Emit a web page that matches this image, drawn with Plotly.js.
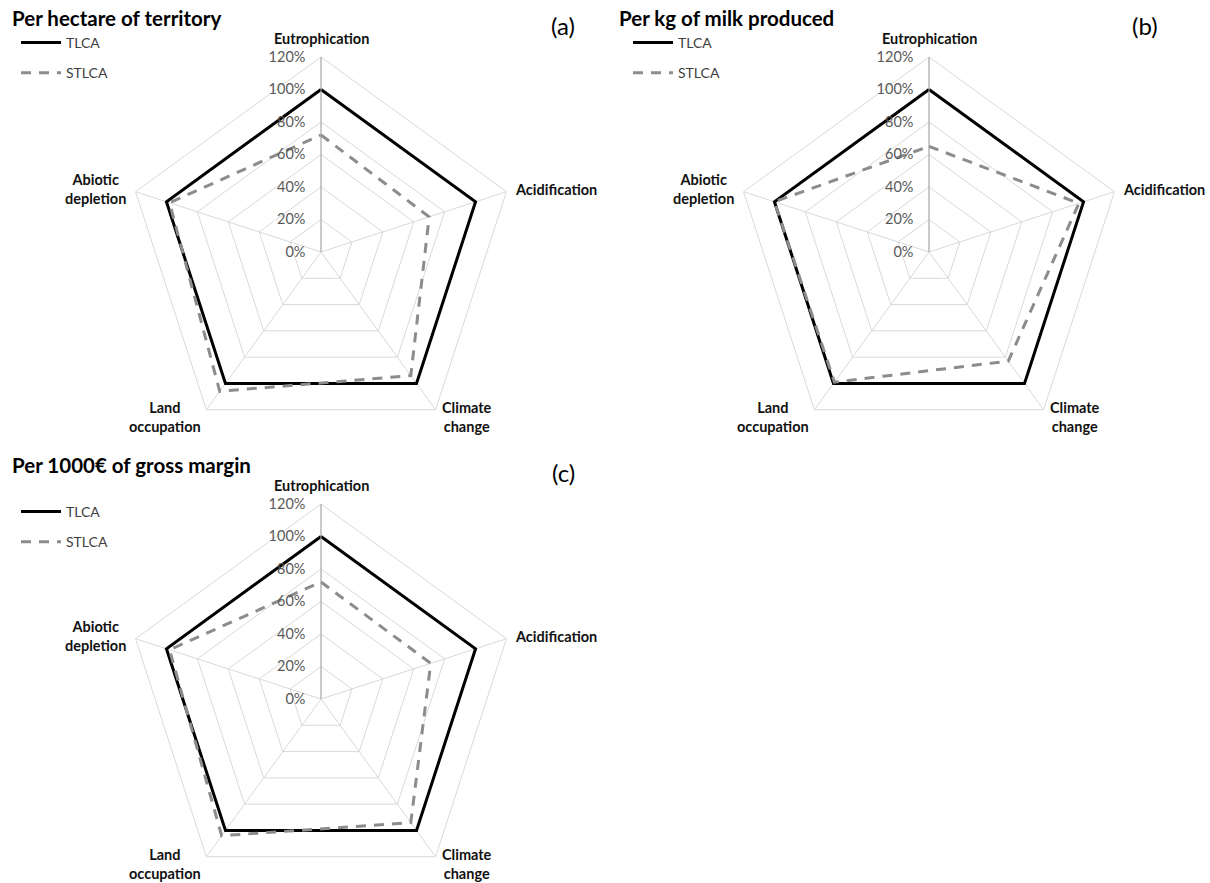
<!DOCTYPE html>
<html>
<head>
<meta charset="utf-8">
<script src="https://cdn.plot.ly/plotly-3.0.1.min.js"></script>
<style>
html,body{margin:0;padding:0;background:#fff;width:1210px;height:883px;overflow:hidden;}
#wrap{width:1210px;height:883px;overflow:hidden;}
#chart{width:1210px;height:900px;}
</style>
</head>
<body>
<div id="wrap"><div id="chart"></div></div>
<script>
// Impact categories (angular axis)
const categories = ['Eutrophication', 'Acidification', 'Climate change', 'Land occupation', 'Abiotic depletion'];
const categoryLabels = ['Eutrophication', 'Acidification', 'Climate<br>change', 'Land<br>occupation', 'Abiotic<br>depletion'];
const seriesNames = ['TLCA', 'STLCA'];

// (a) Per hectare of territory
const tlcaHectare  = [1.00, 1.00, 1.00, 1.00, 1.00];
const stlcaHectare = [0.72, 0.70, 0.94, 1.06, 0.98];
// (b) Per kg of milk produced
const tlcaMilk  = [1.00, 1.00, 1.00, 1.00, 1.00];
const stlcaMilk = [0.65, 0.97, 0.83, 0.99, 1.00];
// (c) Per 1000€ of gross margin
const tlcaMargin  = [1.00, 1.00, 1.00, 1.00, 1.00];
const stlcaMargin = [0.72, 0.71, 0.94, 1.04, 0.98];

const panelTitles = ['Per hectare of territory', 'Per kg of milk produced', 'Per 1000€ of gross margin'];
const panelLetters = ['(a)', '(b)', '(c)'];
const radialTicks = [0, 0.2, 0.4, 0.6, 0.8, 1.0, 1.2];

// canvas is slightly taller than the 883px window so panel (c) can keep its full size
const W = 1210, H = 900, R = 195;
const centers = [[321, 252], [929, 252], [321, 699]];
const polarKeys = ['polar', 'polar2', 'polar3'];
const legendKeys = ['legend', 'legend2', 'legend3'];
const panels = [[tlcaHectare, stlcaHectare], [tlcaMilk, stlcaMilk], [tlcaMargin, stlcaMargin]];

const FONT = 'Lato, "Open Sans", sans-serif';
const close = a => a.concat([a[0]]);

const data = [];
panels.forEach((p, i) => {
  const sub = polarKeys[i];
  data.push({
    type: 'scatterpolar', mode: 'lines', name: seriesNames[0],
    r: close(p[0]), theta: close(categories), subplot: sub,
    legend: legendKeys[i], legendgroup: 'g1' + i,
    line: {color: '#000000', width: 3}
  });
  data.push({
    type: 'scatterpolar', mode: 'lines', name: seriesNames[1],
    r: close(p[1]), theta: close(categories), subplot: sub,
    legend: legendKeys[i], legendgroup: 'g2' + i,
    line: {color: '#8c8c8c', width: 3, dash: '10px,8px'}
  });
});

const layout = {
  width: W, height: H,
  margin: {l: 0, r: 0, t: 0, b: 0},
  paper_bgcolor: '#ffffff',
  font: {family: FONT, color: '#000'},
  annotations: []
};

const titlePos = [[10, 18], [617, 18], [10, 465]];
const letterPos = [[563, 25], [1145, 25], [563, 472]];
const legendPos = [[16, 27], [628, 27], [16, 496]];
// category-label placement relative to the outer polygon vertex (Excel style)
const labelStyle = [
  {dx: 0, dy: -19, xa: 'center'},
  {dx: 7, dy: -2, xa: 'left'},
  {dx: 4, dy: 7, xa: 'left'},
  {dx: -3, dy: 7, xa: 'right'},
  {dx: -8, dy: -3, xa: 'right'}
];

centers.forEach((c, i) => {
  const [cx, cy] = c;
  layout[polarKeys[i]] = {
    domain: {x: [(cx - R) / W, (cx + R) / W], y: [1 - (cy + R) / H, 1 - (cy - R) / H]},
    gridshape: 'linear',
    bgcolor: 'rgba(0,0,0,0)',
    radialaxis: {
      range: [0, 1.2], tickvals: radialTicks, tickformat: '.0%',
      angle: 90, side: 'counterclockwise', tickangle: 90,
      showline: true, linecolor: '#a6a6a6', linewidth: 1,
      gridcolor: '#d9d9d9', gridwidth: 1,
      ticks: 'outside', ticklen: 10, tickcolor: 'rgba(0,0,0,0)',
      tickfont: {family: FONT, size: 14.5, color: '#595959'}
    },
    angularaxis: {
      type: 'category', categoryarray: categories,
      rotation: 90, direction: 'clockwise',
      showline: true, linecolor: '#d9d9d9', linewidth: 1,
      gridcolor: '#d9d9d9', gridwidth: 1, ticks: '',
      showticklabels: false
    }
  };
  layout[legendKeys[i]] = {
    x: legendPos[i][0] / W, y: 1 - legendPos[i][1] / H,
    xanchor: 'left', yanchor: 'top',
    bgcolor: 'rgba(0,0,0,0)', itemwidth: 40,
    traceorder: 'grouped', tracegroupgap: 9,
    font: {family: FONT, size: 14, color: '#404040'}
  };
  layout.annotations.push({
    text: '<b>' + panelTitles[i] + '</b>', xref: 'paper', yref: 'paper',
    x: titlePos[i][0] / W, y: 1 - titlePos[i][1] / H, xanchor: 'left', yanchor: 'middle',
    showarrow: false, font: {family: FONT, size: 20.5, color: '#000'}
  });
  layout.annotations.push({
    text: panelLetters[i], xref: 'paper', yref: 'paper',
    x: letterPos[i][0] / W, y: 1 - letterPos[i][1] / H, xanchor: 'center', yanchor: 'middle',
    showarrow: false, font: {family: FONT, size: 24, color: '#000'}
  });
  categoryLabels.forEach((lab, k) => {
    const ang = (90 - 72 * k) * Math.PI / 180;
    const vx = cx + R * Math.cos(ang), vy = cy - R * Math.sin(ang);
    const st = labelStyle[k];
    layout.annotations.push({
      text: '<b>' + lab + '</b>', xref: 'paper', yref: 'paper',
      x: (vx + st.dx) / W, y: 1 - (vy + st.dy) / H,
      xanchor: st.xa, yanchor: 'middle', align: 'center',
      showarrow: false, font: {family: FONT, size: 14.5, color: '#111'}
    });
  });
});

Plotly.newPlot('chart', data, layout, {displayModeBar: false, staticPlot: true});
</script>
</body>
</html>
